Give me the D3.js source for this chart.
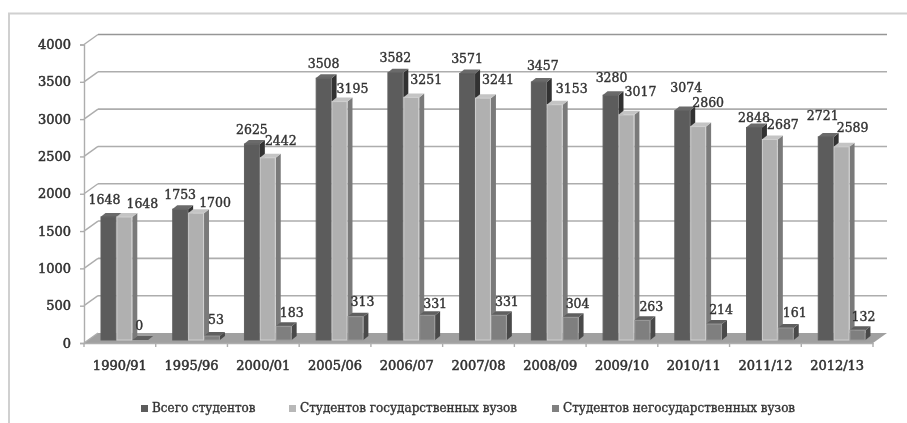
<!DOCTYPE html>
<html><head><meta charset="utf-8">
<script src="https://cdn.jsdelivr.net/npm/d3@7/dist/d3.min.js"></script>
<style>html,body{margin:0;padding:0;background:#fff}svg{display:block}text{font-family:"DejaVu Serif";fill:#333}</style>
</head><body><svg width="907" height="423"></svg>
<script>
const categories=["1990/91","1995/96","2000/01","2005/06","2006/07","2007/08","2008/09","2009/10","2010/11","2011/12","2012/13"];
const seriesNames=["Всего студентов","Студентов государственных вузов","Студентов негосударственных вузов"];
const totalStudents=[1648,1753,2625,3508,3582,3571,3457,3280,3074,2848,2721];
const stateStudents=[1648,1700,2442,3195,3251,3241,3153,3017,2860,2687,2589];
const privateStudents=[0,53,183,313,331,331,304,263,214,161,132];
const yTicks=[0,500,1000,1500,2000,2500,3000,3500,4000];
// label nudges relative to each bar's top centre
const nudgeTotal=[[-4,-18],[0,-15],[0,-15],[0,-15],[0,-15],[0,-15],[4,-17],[1,-18],[4,-23],[0,-10],[-3,-21]];
const nudgeState=[[18,-14],[19,-11],[13,-17],[13,-13],[15,-18],[15,-19],[17,-16],[14,-23],[10,-24],[13,-15],[11,-19]];
const nudgePrivate=[[-1,-15],[4,-17],[8,-14],[7,-15],[8,-12],[8,-14],[7,-14],[9,-14],[7,-15],[9,-15],[6,-14]];

const values=[totalStudents,stateStudents,privateStudents];
const nudges=[nudgeTotal,nudgeState,nudgePrivate];
const front=["#5b5b5b","#b0b0b0","#7f7f7f"];
const topC=["#6a6a6a","#c4c4c4","#5f5f5f"];
const sideC=["#333333","#7a7a7a","#484848"];
const edge=["#606060","#cfcfcf","#979797"];

const svg=d3.select("svg");
const defs=svg.append("defs");
defs.append("filter").attr("id","soft").attr("x","-2%").attr("y","-2%").attr("width","104%").attr("height","104%")
  .append("feGaussianBlur").attr("stdDeviation",0.6);
const root=svg.append("g").attr("filter","url(#soft)");

const left=84,right=873,base=343,top4=44.5,dx=14,dy=10,bdx=5,bdy=4,lift=3;
const x=d3.scaleBand().domain(categories).range([left,right]);
const inner=d3.scaleBand().domain(d3.range(3)).range([x.bandwidth()*0.23,x.bandwidth()*0.895]);
const y=d3.scaleLinear().domain([0,4000]).range([base,top4]);

// frame
root.append("path").attr("d",d3.line()([[9,423],[9,13.5],[907,13.5]])).attr("fill","none").attr("stroke","#d0d0d0").attr("stroke-width",2);

// floor
root.append("path").attr("d",d3.line()([[left,base],[right,base],[right+dx,base-dy],[left+dx,base-dy]])+"Z").attr("fill","#a0a0a0");

// gridlines and left wall
yTicks.forEach(t=>{
  if(t>0) root.append("line").attr("x1",left+dx).attr("x2",right+dx).attr("y1",y(t)-dy).attr("y2",y(t)-dy)
    .attr("stroke",t===4000?"#969696":"#adadad").attr("stroke-width",1.6);
  root.append("line").attr("x1",left).attr("x2",left+dx).attr("y1",y(t)).attr("y2",y(t)-dy).attr("stroke","#adadad").attr("stroke-width",1.4);
});

// axes
const yAxis=root.append("g").attr("transform",`translate(${left},0)`)
  .call(d3.axisLeft(y).tickValues(yTicks).tickFormat(d3.format("d")).tickSize(4).tickPadding(9));
const xAxis=root.append("g").attr("transform",`translate(0,${base})`)
  .call(d3.axisBottom(x).tickSize(0).tickPadding(18));
xAxis.selectAll(".tick").append("line").attr("x1",-x.bandwidth()/2).attr("x2",-x.bandwidth()/2).attr("y2",4).attr("stroke","#adadad");
root.append("line").attr("x1",right).attr("x2",right).attr("y1",base).attr("y2",base+4).attr("stroke","#adadad").attr("stroke-width",1.4);
[yAxis,xAxis].forEach(a=>{
  a.selectAll(".domain,.tick>line").attr("stroke","#adadad").attr("stroke-width",1.4);
  a.selectAll("text").attr("font-family","DejaVu Serif").attr("font-size",13).attr("fill","#333").attr("stroke","#333").attr("stroke-width",0.55);
});

// bars
const barsLayer=root.append("g"), labelLayer=root.append("g");
categories.forEach((c,i)=>{
  [0,1,2].forEach(s=>{
    const v=values[s][i];
    const xl=x(c)+inner(s), w=inner.bandwidth(), yb=y(0)-lift, yt=y(v)-lift, g=barsLayer.append("g");
    g.append("path").attr("d",`M${xl+w},${yt}L${xl+w+bdx},${yt-bdy}L${xl+w+bdx},${yb-bdy}L${xl+w},${yb}Z`).attr("fill",sideC[s]);
    g.append("path").attr("d",`M${xl},${yt}L${xl+w},${yt}L${xl+w+bdx},${yt-bdy}L${xl+bdx},${yt-bdy}Z`).attr("fill",topC[s]);
    g.append("rect").attr("x",xl+0.5).attr("y",yt).attr("width",w-1).attr("height",Math.max(0,yb-yt)).attr("fill",front[s]).attr("stroke",edge[s]).attr("stroke-width",1);
    labelLayer.append("text").attr("x",xl+w/2+nudges[s][i][0]).attr("y",yt+nudges[s][i][1]).attr("dy","0.36em")
      .attr("text-anchor","middle").attr("font-size",12.5).attr("stroke","#333").attr("stroke-width",0.4).text(v);
  });
});

// legend
const legendX=[141,289,552];
const legendColor=["#5b5b5b","#b8b8b8","#808080"];
seriesNames.forEach((n,i)=>{
  root.append("rect").attr("x",legendX[i]).attr("y",405).attr("width",7).attr("height",7).attr("fill",legendColor[i]);
  root.append("text").attr("x",legendX[i]+11).attr("y",412).attr("font-size",12).attr("fill","#333").attr("stroke","#333").attr("stroke-width",0.35).text(n);
});
</script></body></html>
